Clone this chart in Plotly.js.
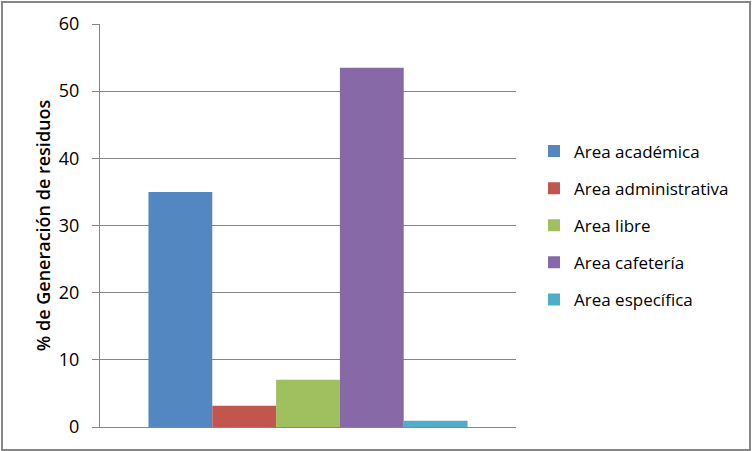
<!DOCTYPE html>
<html>
<head>
<meta charset="utf-8">
<script src="https://cdn.plot.ly/plotly-3.0.1.min.js"></script>
<style>
html,body{margin:0;padding:0;background:#fff;}
#chart{width:753px;height:451px;}
</style>
</head>
<body>
<div id="chart"></div>
<script>
var categories = ['Generación'];
var seriesNames = ['Area académica', 'Area administrativa', 'Area libre', 'Area cafetería', 'Area específica'];
var seriesValues = [35, 3.15, 7.05, 53.5, 0.93];
var seriesColors = ['#5387C2', '#C3554F', '#A0BF5F', '#8669A6', '#4EADC8'];
var yTicks = [0, 10, 20, 30, 40, 50, 60];

var FONT = '"Open Sans", "Noto Sans", sans-serif';

var traces = seriesNames.map(function (name, i) {
  return {
    type: 'bar',
    name: name,
    x: categories,
    y: [seriesValues[i]],
    marker: {color: seriesColors[i], line: {width: 0}},
    legendgroup: 'g' + i,
    hoverinfo: 'name+y'
  };
});

var layout = {
  width: 753,
  height: 451,
  margin: {l: 100, r: 237, t: 24, b: 24, pad: 0},
  paper_bgcolor: '#ffffff',
  plot_bgcolor: '#ffffff',
  barmode: 'group',
  bargap: 0.233,
  bargroupgap: 0,
  font: {family: FONT, size: 17, color: '#000'},
  showlegend: true,
  legend: {
    x: 534 / 753, xref: 'container', xanchor: 'left',
    y: 0.5, yanchor: 'middle',
    tracegroupgap: 12,
    itemwidth: 30,
    font: {family: FONT, size: 17, color: '#000'},
    bgcolor: 'rgba(0,0,0,0)'
  },
  xaxis: {
    showticklabels: false,
    ticks: '',
    showgrid: false,
    showline: true,
    linecolor: '#868686',
    linewidth: 1,
    zeroline: false,
    fixedrange: true
  },
  yaxis: {
    range: [0, 60],
    tickvals: yTicks,
    ticktext: yTicks.map(String),
    ticks: 'outside',
    ticklen: 7,
    tickcolor: '#868686',
    showline: true,
    linecolor: '#868686',
    linewidth: 1,
    showgrid: true,
    gridcolor: '#868686',
    gridwidth: 1,
    zeroline: false,
    ticklabelstandoff: 9,
    tickfont: {family: FONT, size: 18, color: '#000'},
    title: {text: '% de Generación de residuos', font: {family: FONT, size: 18, color: '#000', weight: 600}, standoff: 3},
    fixedrange: true
  },
  shapes: [{
    type: 'rect', xref: 'paper', yref: 'paper',
    x0: -98 / 416, x1: 650 / 416, y0: -23 / 403, y1: 425 / 403,
    line: {color: '#868686', width: 2}, fillcolor: 'rgba(0,0,0,0)', layer: 'below'
  }]
};

Plotly.newPlot('chart', traces, layout, {displayModeBar: false, staticPlot: true});
</script>
</body>
</html>
